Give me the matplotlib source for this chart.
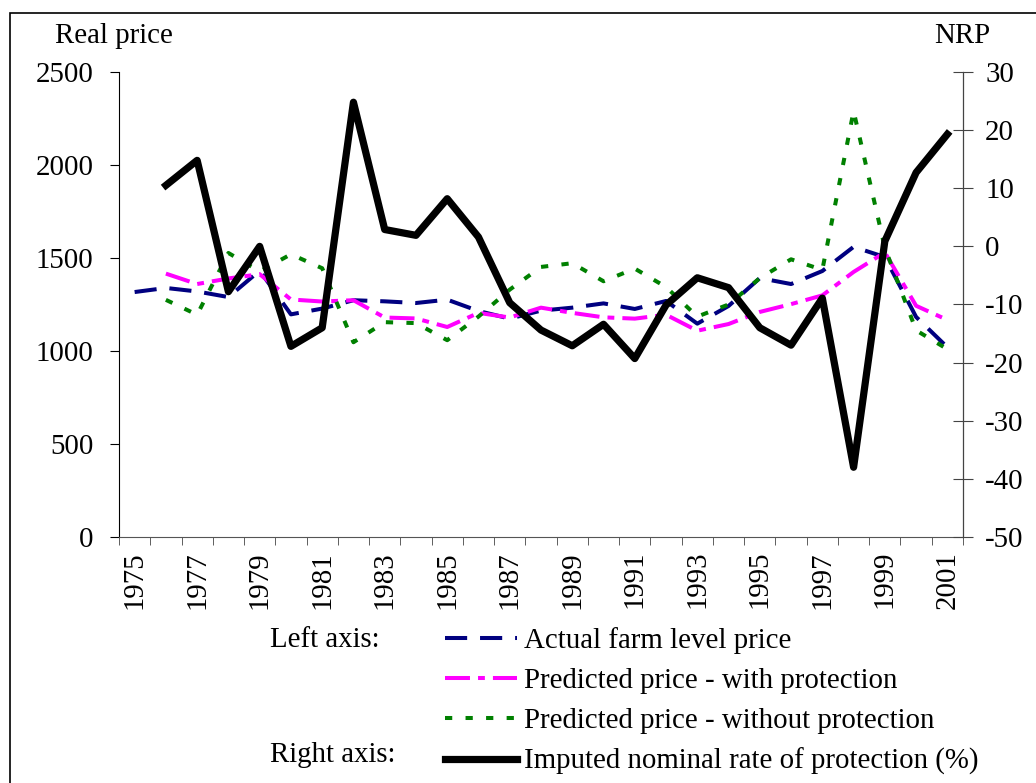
import numpy as np
import matplotlib.pyplot as plt
from matplotlib.patches import Rectangle

plt.rcParams['font.family'] = ['Liberation Serif', 'DejaVu Serif']
plt.rcParams['axes.unicode_minus'] = False

# data
years = list(range(1975, 2002))
actual_price = [1317, 1339, 1320, 1290, 1432, 1197, 1228, 1273, 1267, 1258, 1276, 1215, 1174, 1217,
                1233, 1256, 1226, 1269, 1147, 1242, 1392, 1360, 1430, 1560, 1505, 1183, 1020]
pred_with = [np.nan, 1416, 1360, 1390, 1413, 1277, 1266, 1273, 1180, 1175, 1129, 1205, 1180, 1233,
             1205, 1181, 1174, 1195, 1109, 1145, 1210, 1252, 1299, 1425, 1530, 1243, 1167]
pred_without = [np.nan, 1275, 1195, 1527, 1428, 1520, 1445, 1047, 1155, 1150, 1058, 1185, 1330, 1452,
                1472, 1375, 1443, 1344, 1185, 1250, 1392, 1493, 1436, 2290, 1555, 1111, 1010]
nrp = [np.nan, 10.5, 14.8, -7.8, 0, -17.2, -14, 24.8, 2.9, 1.9, 8.2, 1.6, -9.7, -14.4,
       -17.1, -13.4, -19.3, -10.1, -5.4, -7.1, -14, -17, -8.9, -38, 0.9, 12.7, 19.3]
year_labels = [str(y) for y in years[::2]]

fs = 20.8
fig = plt.figure(figsize=(10.36, 7.83), dpi=100)
ax = fig.add_axes([119/1036, 1 - 537/783, (963 - 119)/1036, (537 - 72)/783])
ax2 = ax.twinx()

l1, = ax.plot(years, actual_price, color='#000080', lw=2.9, dashes=(5.5, 3.2),
              label='Actual farm level price')
l2, = ax.plot(years, pred_with, color='#FF00FF', lw=2.9, dashes=(6.2, 2, 1.7, 2),
              label='Predicted price - with protection')
l3, = ax.plot(years, pred_without, color='#008000', lw=2.9, dashes=(1.8, 3.3),
              label='Predicted price - without protection')
l4, = ax2.plot(years, nrp, color='black', lw=5.2, solid_joinstyle='round',
               label='Imputed nominal rate of protection (%)')

ax.set_xlim(1974.5, 2001.5)
ax.set_ylim(0, 2500)
ax.set_yticks(range(0, 2501, 500))
ax2.set_ylim(-50, 30)
ax2.set_yticks(range(-50, 31, 10))

ax.set_xticks(years[::2])
ax.set_xticklabels(year_labels, rotation=90, fontsize=fs)
ax.set_xticks(np.arange(1974.5, 2002, 1), minor=True)
ax.tick_params(axis='x', which='major', length=0, pad=10)
ax.tick_params(axis='x', which='minor', length=6, direction='out', color='#444444')
ax.tick_params(axis='y', length=6.5, direction='out', labelsize=fs, pad=12)
ax2.tick_params(axis='y', length=14, direction='inout', labelsize=fs, pad=9, color='#444444')

for a in (ax, ax2):
    a.spines['top'].set_visible(False)
    a.patch.set_visible(False)
ax.spines['bottom'].set_color('#555555')
ax2.spines['right'].set_color('#444444')
ax2.spines['left'].set_visible(False)
ax2.spines['bottom'].set_visible(False)

fig.text(55/1036, 1 - 36/783, 'Real price', fontsize=fs, va='center', ha='left')
fig.text(990/1036, 1 - 36/783, 'NRP', fontsize=fs, va='center', ha='right')

fig.legend(handles=[l1, l2, l3, l4], loc='upper left', bbox_to_anchor=(445/1036, 1 - 627/783),
           frameon=False, fontsize=fs, handlelength=2.5, handletextpad=0.25,
           labelspacing=0.48, borderpad=0, borderaxespad=0)
fig.text(270/1036, 1 - 640/783, 'Left axis:', fontsize=fs, va='center', ha='left')
fig.text(270/1036, 1 - 755/783, 'Right axis:', fontsize=fs, va='center', ha='left')

# outer frame of the figure
fig.patches.append(Rectangle((10/1036, -0.1), 1.2, 1.1 - 13/783, transform=fig.transFigure,
                             fill=False, edgecolor='black', lw=1.2, clip_on=False))

fig.savefig('out.png', dpi=100)
